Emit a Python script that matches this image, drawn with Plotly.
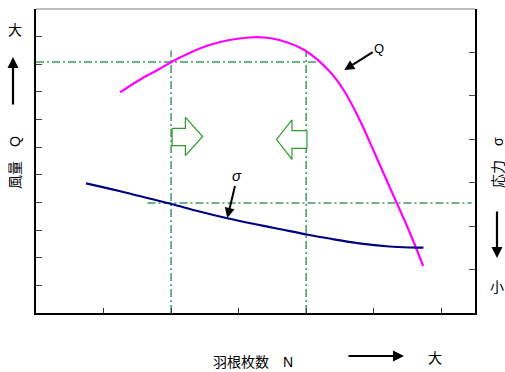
import plotly.graph_objects as go

# ---- data (blade count N on x, airflow Q on left axis, stress σ on right axis) ----
q_x = [1.246, 1.531, 1.827, 2.004, 2.271, 2.567, 2.863, 3.158, 3.380, 3.602, 3.972, 4.342, 4.564, 4.786, 5.007, 5.229, 5.525, 5.732]
q_y = [7.986, 8.431, 8.829, 9.082, 9.408, 9.697, 9.878, 9.969, 9.969, 9.878, 9.517, 8.757, 8.033, 7.020, 5.826, 4.595, 2.967, 1.701]

s_x = [0.742, 1.235, 1.679, 2.004, 2.419, 2.833, 3.232, 3.602, 4.046, 4.342, 4.786, 5.229, 5.525, 5.737]
s_y = [2.986, 2.809, 2.636, 2.510, 2.337, 2.181, 2.049, 1.934, 1.796, 1.715, 1.605, 1.531, 1.508, 1.504]

x_ticks = [1, 2, 3, 4, 5, 6]
y_ticks = [1, 2, 3, 4, 5, 6, 7, 8, 9, 10]
y2_ticks = [1, 2, 3, 4, 5, 6]

guide_v_x = [2.0, 4.0]
guide_v_top = 9.5
guide_h1_x = [0.0, 4.27]
guide_h1_y = 9.08
guide_h2_x = [1.65, 6.45]
guide_h2_y = 3.98

arrow_right_x = [2.015, 2.212, 2.212, 2.467, 2.212, 2.212, 2.015]
arrow_right_y = [6.683, 6.683, 7.081, 6.387, 5.692, 6.054, 6.054]
arrow_left_x = [4.012, 3.790, 3.790, 3.562, 3.790, 3.790, 4.012]
arrow_left_y = [6.597, 6.597, 6.984, 6.278, 5.562, 5.960, 5.960]

GREEN = "#3c9a62"
ARROW_GREEN = "#2a9a2a"
FONT = "Arial, Liberation Sans, Noto Sans CJK JP"
DASH = "8px,3px,2px,3px"

fig = go.Figure()

# guide lines
for gx in guide_v_x:
    fig.add_trace(go.Scatter(x=[gx, gx], y=[0, guide_v_top], mode="lines",
                             line=dict(color=GREEN, width=1.5, dash=DASH),
                             hoverinfo="skip", showlegend=False))
fig.add_trace(go.Scatter(x=guide_h1_x, y=[guide_h1_y, guide_h1_y], mode="lines",
                         line=dict(color=GREEN, width=1.5, dash=DASH),
                         hoverinfo="skip", showlegend=False))
fig.add_trace(go.Scatter(x=guide_h2_x, y=[guide_h2_y, guide_h2_y], mode="lines",
                         line=dict(color=GREEN, width=1.5, dash=DASH),
                         hoverinfo="skip", showlegend=False))

# hollow arrows
for ax_, ay_ in [(arrow_right_x, arrow_right_y), (arrow_left_x, arrow_left_y)]:
    fig.add_trace(go.Scatter(x=ax_ + [ax_[0]], y=ay_ + [ay_[0]], mode="lines",
                             fill="toself", fillcolor="white",
                             line=dict(color=ARROW_GREEN, width=1.2),
                             hoverinfo="skip", showlegend=False))

# curves
fig.add_trace(go.Scatter(x=q_x, y=q_y, mode="lines", line=dict(color="#ff00ff", width=2.2, shape="spline"),
                         name="Q", showlegend=False))
fig.add_trace(go.Scatter(x=s_x, y=s_y, mode="lines", line=dict(color="#000080", width=2.2, shape="spline"),
                         name="σ", yaxis="y2", showlegend=False))

ann = []
# curve labels
ann.append(dict(x=2.833, y=3.44, xref="x", yref="y", text="<i>σ</i>", showarrow=True,
                ax=10, ay=-42, arrowhead=2, arrowsize=1, arrowwidth=2, arrowcolor="black",
                font=dict(size=15, color="black", family=FONT)))
ann.append(dict(x=4.564, y=8.79, xref="x", yref="y", text="Q", showarrow=True,
                ax=35, ay=-22, arrowhead=2, arrowsize=1, arrowwidth=2, arrowcolor="black",
                font=dict(size=13, color="black", family=FONT)))

# outer labels
def P(px, py):
    return (px - 36) / 439, (313 - py) / 304

for txt, px, py, ang in [("大", 15, 30, 0), ("風量\u3000Q", 15, 163, -90),
                         ("応力\u3000σ", 498, 163, -90), ("小", 497, 287, 0),
                         ("羽根枚数\u3000N", 253, 362, 0), ("大", 435, 358, 0)]:
    x, y = P(px, py)
    ann.append(dict(x=x, y=y, xref="paper", yref="paper", text=txt, showarrow=False,
                    textangle=ang, xanchor="center", yanchor="middle",
                    font=dict(size=14, color="black", family=FONT)))

for hx, hy, axp, ayp in [(13, 57, 0, 49), (497, 258, 0, -48), (404, 356, -57, 0)]:
    x, y = P(hx, hy)
    ann.append(dict(x=x, y=y, xref="paper", yref="paper", text="", showarrow=True,
                    ax=axp, ay=ayp, arrowhead=2, arrowsize=1, arrowwidth=2.2, arrowcolor="black"))

fig.update_layout(
    width=505, height=372,
    margin=dict(l=36, r=30, t=9, b=59),
    paper_bgcolor="white", plot_bgcolor="white",
    annotations=ann,
    xaxis=dict(range=[0, 6.5], tickvals=x_ticks, ticks="inside", ticklen=5, tickcolor="#333",
               showticklabels=False, showgrid=False, zeroline=False,
               showline=True, linecolor="black", linewidth=1.5),
    yaxis=dict(range=[0, 11], tickvals=y_ticks, ticks="inside", ticklen=6, tickcolor="#444",
               showticklabels=False, showgrid=False, zeroline=False,
               showline=True, linecolor="black", linewidth=1.5),
    yaxis2=dict(range=[0, 7], tickvals=y2_ticks, ticks="inside", ticklen=6, tickcolor="#444",
                overlaying="y", side="right",
                showticklabels=False, showgrid=False, zeroline=False,
                showline=True, linecolor="black", linewidth=1.5),
    shapes=[dict(type="line", xref="paper", yref="paper", x0=0, x1=1, y0=1, y1=1,
                 line=dict(color="#aaaaaa", width=1.5))],
)

fig.write_html("out.html", config={"displayModeBar": False},
               post_script="document.body.style.margin='0';document.body.style.overflow='hidden';")
